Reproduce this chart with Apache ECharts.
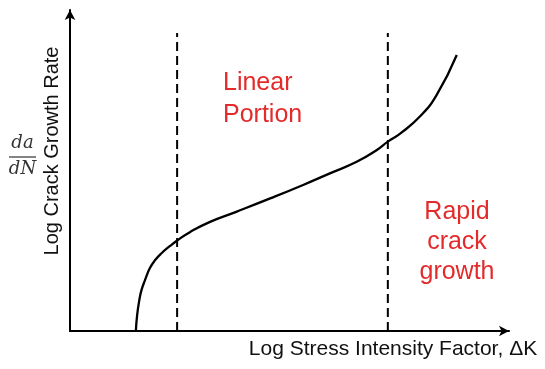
<!DOCTYPE html>
<html><head><meta charset="utf-8">
<script src="https://cdn.jsdelivr.net/npm/echarts@6/dist/echarts.min.js"></script>
<style>html,body{margin:0;padding:0;background:#fff}#c{width:545px;height:369px}</style>
</head><body><div id="c"></div>
<script>
// Curve (log ΔK vs log da/dN), arbitrary axis units 0..100
var curveX = [15.0, 15.3, 15.8, 16.3, 17.1, 18.2, 19.4, 20.9, 22.8, 24.4, 27.3, 31.9, 38.0, 45.6, 53.1, 59.2, 65.3, 69.9, 72.4, 75.2, 79.7, 83.5, 88.1];
var curveY = [0, 5.0, 9.7, 12.8, 15.9, 19.6, 22.1, 24.3, 26.5, 28.2, 30.8, 34.0, 37.2, 41.3, 45.5, 49.1, 52.7, 56.4, 59.0, 61.5, 66.8, 73.5, 86.0];
var boundaryX = [24.4, 72.4];
var boundaryTop = 92.8;
var regionLabels = ['Linear\nPortion', 'Rapid\ncrack\ngrowth'];
var xTitle = 'Log Stress Intensity Factor, \u0394K';
var yTitle = 'Log Crack Growth Rate';

var chart = echarts.init(document.getElementById('c'));
var curve = curveX.map(function (x, i) { return [x, curveY[i]]; });
var series = [{
  type: 'line', data: curve, smooth: 0.5, showSymbol: false, symbol: 'none',
  lineStyle: { color: '#000', width: 2.3 }, z: 3
}];
boundaryX.forEach(function (bx) {
  series.push({
    type: 'line', data: [[bx, 0], [bx, boundaryTop]], showSymbol: false, symbol: 'none',
    lineStyle: { color: '#000', width: 2, type: [9, 5] }
  });
});
var font = '"Liberation Sans", Arial, sans-serif';
var serif = 'italic 18px "DejaVu Serif", "Liberation Serif", serif';
chart.setOption({
  animation: false,
  grid: { left: 70, right: 36, top: 10, bottom: 38 },
  xAxis: {
    type: 'value', min: 0, max: 100,
    axisLine: { show: true, symbol: ['none', 'arrow'], symbolSize: [8, 10], lineStyle: { color: '#000', width: 2 } },
    axisTick: { show: false }, axisLabel: { show: false }, splitLine: { show: false }
  },
  yAxis: {
    type: 'value', min: 0, max: 100,
    axisLine: { show: true, symbol: ['none', 'arrow'], symbolSize: [8, 10], lineStyle: { color: '#000', width: 2 } },
    axisTick: { show: false }, axisLabel: { show: false }, splitLine: { show: false }
  },
  series: series,
  graphic: [
    { type: 'text', x: 223, y: 67, style: { text: regionLabels[0], fill: '#e32b2b', font: '25px ' + font, lineHeight: 32, align: 'left', verticalAlign: 'top' } },
    { type: 'text', x: 457, y: 197, style: { text: regionLabels[1], fill: '#e32b2b', font: '25px ' + font, lineHeight: 30, align: 'center', verticalAlign: 'top' } },
    { type: 'text', x: 393, y: 349, style: { text: xTitle, fill: '#111', font: '21px ' + font, align: 'center', verticalAlign: 'middle' } },
    { type: 'text', x: 52, y: 151, rotation: Math.PI / 2, style: { text: yTitle, fill: '#111', font: '20px ' + font, align: 'center', verticalAlign: 'middle' } },
    { type: 'text', x: 22.5, y: 143, style: { text: 'da', fill: '#333', font: serif, align: 'center', verticalAlign: 'middle' } },
    { type: 'line', shape: { x1: 9, y1: 157, x2: 36, y2: 157 }, style: { stroke: '#333', lineWidth: 1.2 } },
    { type: 'text', x: 22.5, y: 169, style: { text: 'dN', fill: '#333', font: serif, align: 'center', verticalAlign: 'middle' } }
  ]
});
</script></body></html>
